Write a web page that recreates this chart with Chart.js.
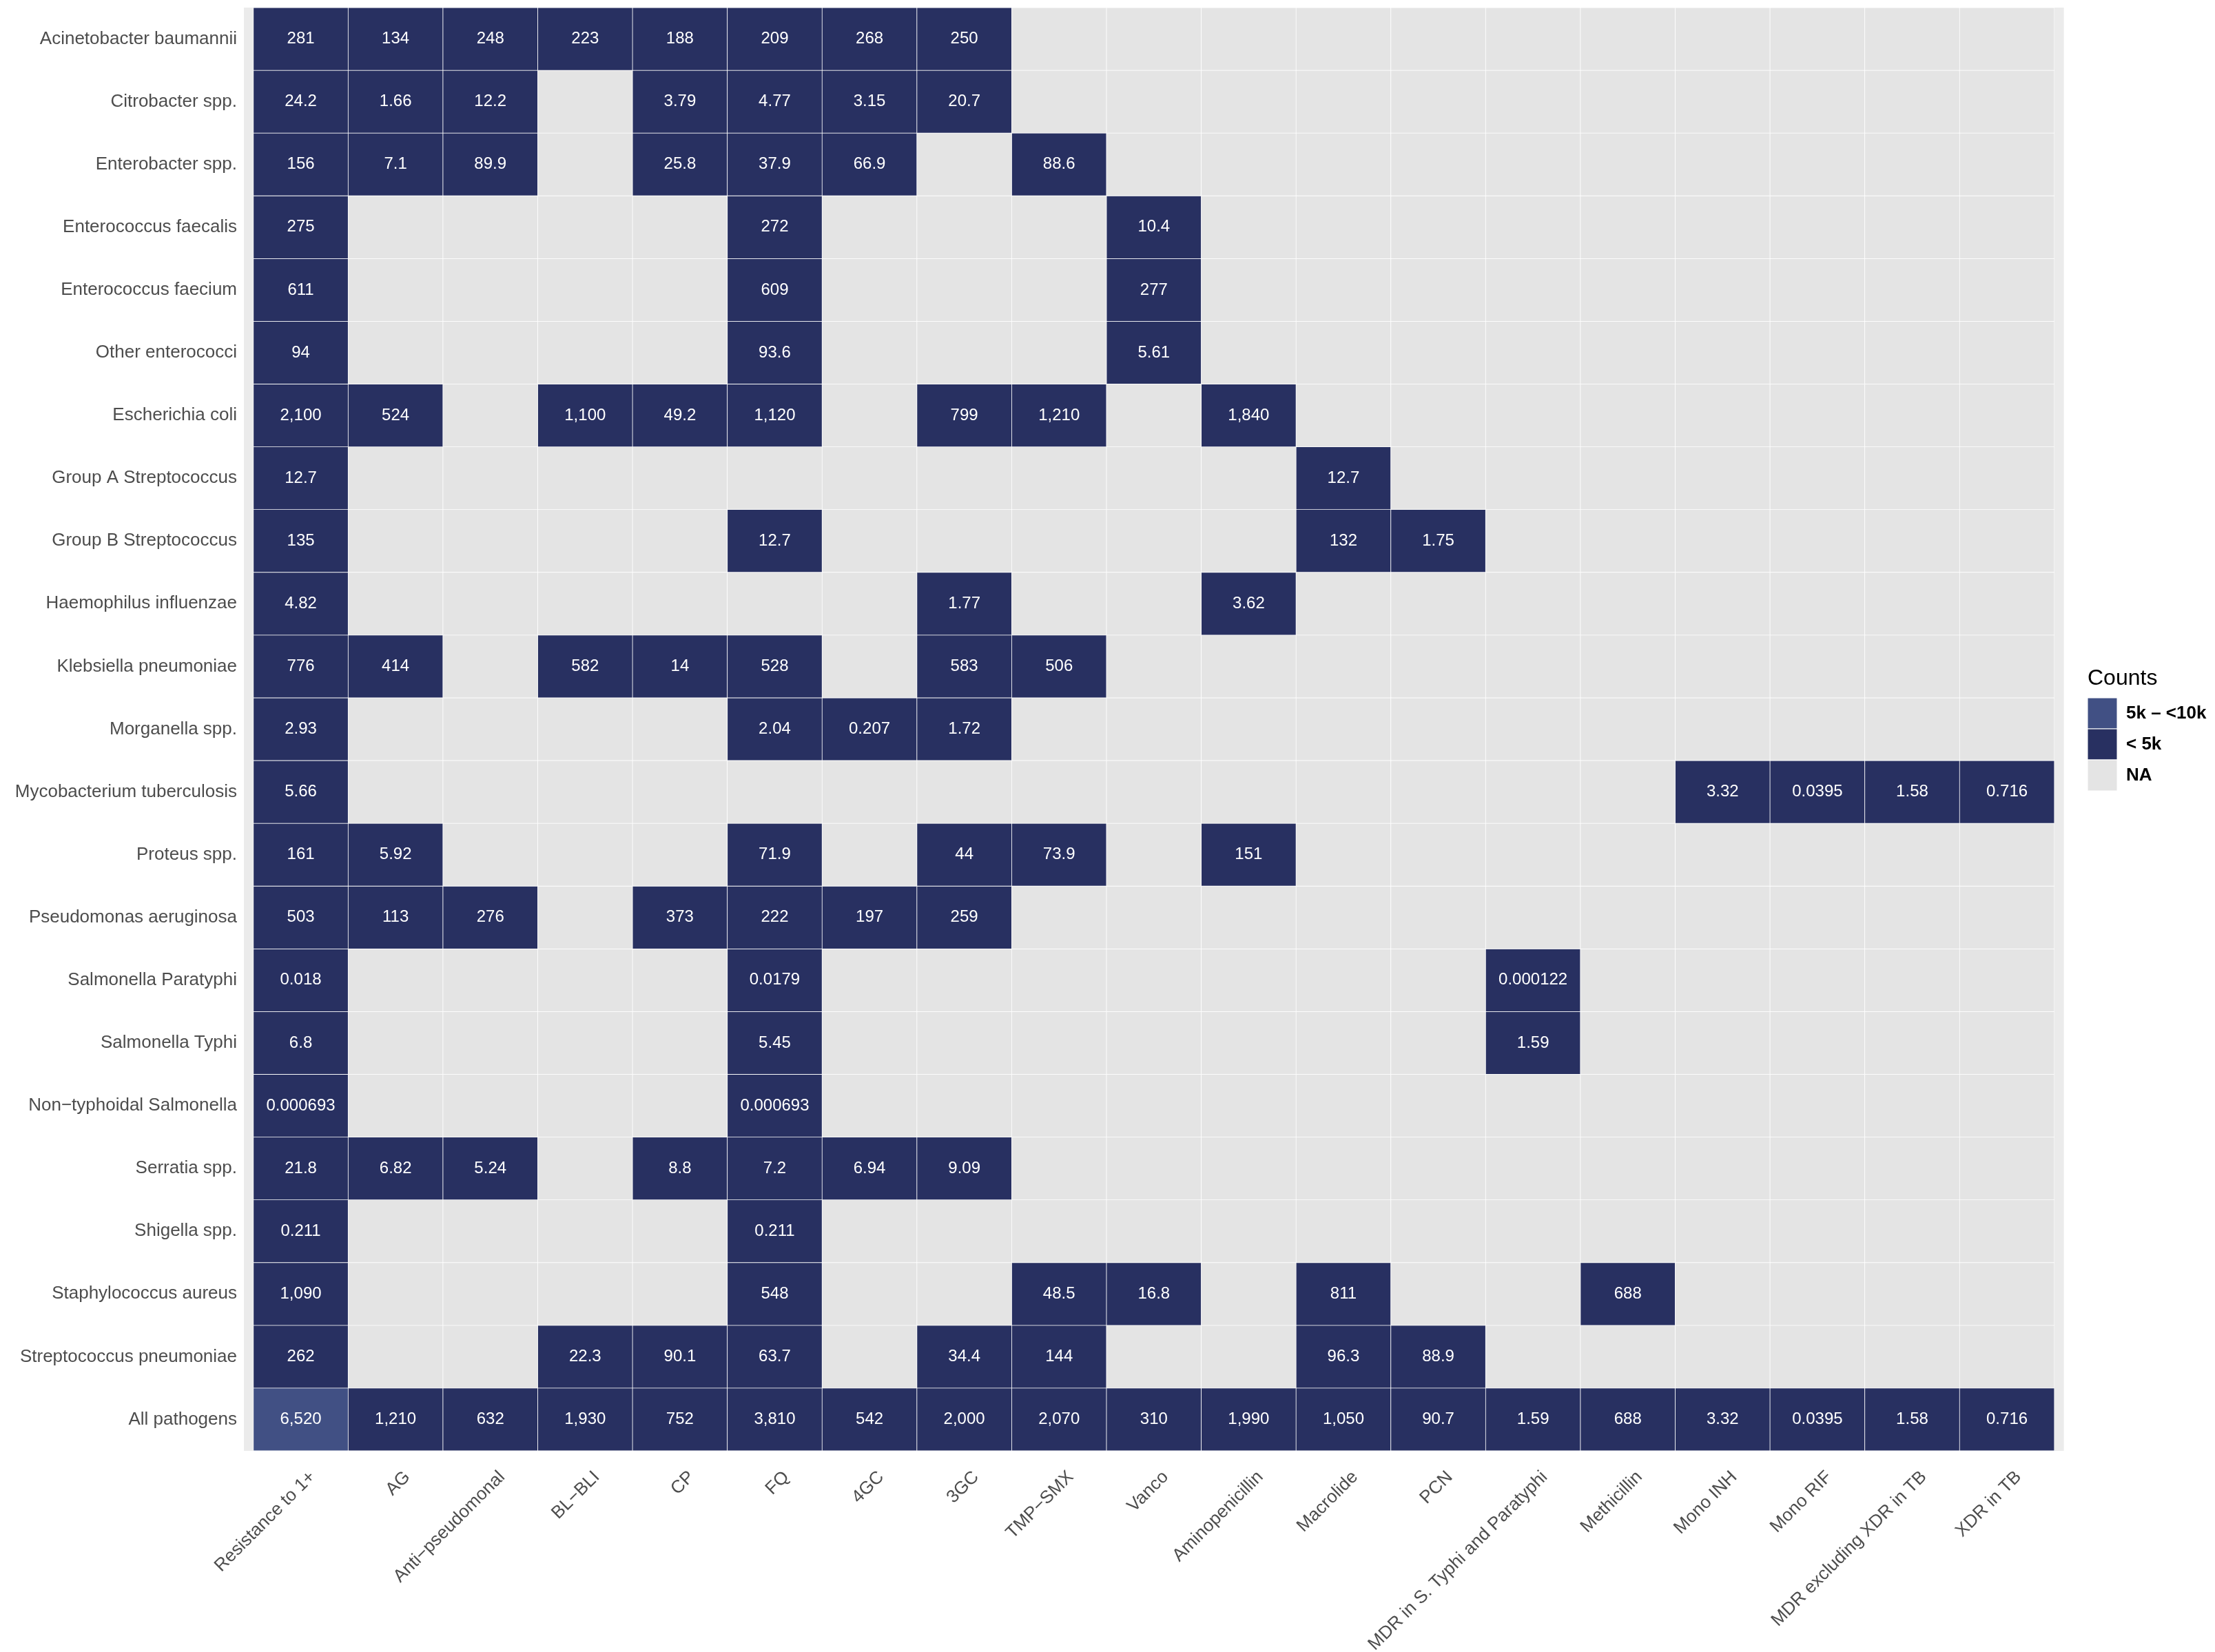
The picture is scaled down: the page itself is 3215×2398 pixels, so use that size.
<!DOCTYPE html>
<html>
<head>
<meta charset="utf-8">
<title>Resistance counts heatmap</title>
<script src="https://cdn.jsdelivr.net/npm/chart.js@4.4.1/dist/chart.umd.min.js"></script>
<style>
  html, body { margin: 0; padding: 0; background: #ffffff; }
  #wrap { width: 3215px; height: 2398px; }
</style>
</head>
<body>
<div id="wrap"><canvas id="heatmap"></canvas></div>
<script>
// Rows (top to bottom) and columns of the heatmap
const pathogens = [
    'Acinetobacter baumannii', 'Citrobacter spp.', 'Enterobacter spp.', 'Enterococcus faecalis',
    'Enterococcus faecium', 'Other enterococci', 'Escherichia coli', 'Group A Streptococcus',
    'Group B Streptococcus', 'Haemophilus influenzae', 'Klebsiella pneumoniae', 'Morganella spp.',
    'Mycobacterium tuberculosis', 'Proteus spp.', 'Pseudomonas aeruginosa', 'Salmonella Paratyphi',
    'Salmonella Typhi', 'Non\u2212typhoidal Salmonella', 'Serratia spp.', 'Shigella spp.',
    'Staphylococcus aureus', 'Streptococcus pneumoniae', 'All pathogens'
];
const drugClasses = [
    'Resistance to 1+', 'AG', 'Anti\u2212pseudomonal', 'BL\u2212BLI', 'CP', 'FQ', '4GC', '3GC',
    'TMP\u2212SMX', 'Vanco', 'Aminopenicillin', 'Macrolide', 'PCN', 'MDR in S. Typhi and Paratyphi',
    'Methicillin', 'Mono INH', 'Mono RIF', 'MDR excluding XDR in TB', 'XDR in TB'
];

// Counts per pathogen, one entry per drug class (_ = NA)
const _ = null;
const acinetobacter    = [281, 134, 248, 223, 188, 209, 268, 250, _, _, _, _, _, _, _, _, _, _, _];
const citrobacter      = [24.2, 1.66, 12.2, _, 3.79, 4.77, 3.15, 20.7, _, _, _, _, _, _, _, _, _, _, _];
const enterobacter     = [156, 7.1, 89.9, _, 25.8, 37.9, 66.9, _, 88.6, _, _, _, _, _, _, _, _, _, _];
const eFaecalis        = [275, _, _, _, _, 272, _, _, _, 10.4, _, _, _, _, _, _, _, _, _];
const eFaecium         = [611, _, _, _, _, 609, _, _, _, 277, _, _, _, _, _, _, _, _, _];
const otherEnterococci = [94, _, _, _, _, 93.6, _, _, _, 5.61, _, _, _, _, _, _, _, _, _];
const eColi            = [2100, 524, _, 1100, 49.2, 1120, _, 799, 1210, _, 1840, _, _, _, _, _, _, _, _];
const groupAStrep      = [12.7, _, _, _, _, _, _, _, _, _, _, 12.7, _, _, _, _, _, _, _];
const groupBStrep      = [135, _, _, _, _, 12.7, _, _, _, _, _, 132, 1.75, _, _, _, _, _, _];
const haemophilus      = [4.82, _, _, _, _, _, _, 1.77, _, _, 3.62, _, _, _, _, _, _, _, _];
const klebsiella       = [776, 414, _, 582, 14, 528, _, 583, 506, _, _, _, _, _, _, _, _, _, _];
const morganella       = [2.93, _, _, _, _, 2.04, 0.207, 1.72, _, _, _, _, _, _, _, _, _, _, _];
const mycobacterium    = [5.66, _, _, _, _, _, _, _, _, _, _, _, _, _, _, 3.32, 0.0395, 1.58, 0.716];
const proteus          = [161, 5.92, _, _, _, 71.9, _, 44, 73.9, _, 151, _, _, _, _, _, _, _, _];
const pseudomonas      = [503, 113, 276, _, 373, 222, 197, 259, _, _, _, _, _, _, _, _, _, _, _];
const salParatyphi     = [0.018, _, _, _, _, 0.0179, _, _, _, _, _, _, _, 0.000122, _, _, _, _, _];
const salTyphi         = [6.8, _, _, _, _, 5.45, _, _, _, _, _, _, _, 1.59, _, _, _, _, _];
const nonTyphoidal     = [0.000693, _, _, _, _, 0.000693, _, _, _, _, _, _, _, _, _, _, _, _, _];
const serratia         = [21.8, 6.82, 5.24, _, 8.8, 7.2, 6.94, 9.09, _, _, _, _, _, _, _, _, _, _, _];
const shigella         = [0.211, _, _, _, _, 0.211, _, _, _, _, _, _, _, _, _, _, _, _, _];
const staphAureus      = [1090, _, _, _, _, 548, _, _, 48.5, 16.8, _, 811, _, _, 688, _, _, _, _];
const strepPneumoniae  = [262, _, _, 22.3, 90.1, 63.7, _, 34.4, 144, _, _, 96.3, 88.9, _, _, _, _, _, _];
const allPathogens     = [6520, 1210, 632, 1930, 752, 3810, 542, 2000, 2070, 310, 1990, 1050, 90.7, 1.59, 688, 3.32, 0.0395, 1.58, 0.716];

// Legend bins
const binLabels = ['5k \u2013 <10k', '< 5k', 'NA'];
const binThreshold = 5000;

const rows = [
    acinetobacter, citrobacter, enterobacter, eFaecalis, eFaecium, otherEnterococci, eColi,
    groupAStrep, groupBStrep, haemophilus, klebsiella, morganella, mycobacterium, proteus,
    pseudomonas, salParatyphi, salTyphi, nonTyphoidal, serratia, shigella, staphAureus,
    strepPneumoniae, allPathogens
];

const binColors = ['#415084', '#283061', '#e4e4e4'];
const panelGrey = '#ebebeb';
const axisGrey = '#4d4d4d';
const fontFamily = "'Liberation Sans', Arial, Helvetica, sans-serif";

Chart.defaults.font.family = fontFamily;

function binOf(v) {
    if (v === null) return 2;
    return v >= binThreshold ? 0 : 1;
}

function formatCount(v) {
    return v.toLocaleString('en-US', { maximumSignificantDigits: 3 });
}

// grey panel with a little padding either side of the tiles (like ggplot)
const panelBackground = {
    id: 'panelBackground',
    beforeDatasetsDraw(chart) {
        const { ctx, chartArea, scales } = chart;
        const left = scales.x.getPixelForValue(-0.6);
        const right = scales.x.getPixelForValue(drugClasses.length - 0.4);
        ctx.save();
        ctx.fillStyle = panelGrey;
        ctx.fillRect(left, chartArea.top, right - left, chartArea.bottom - chartArea.top);
        ctx.restore();
    }
};

// value printed in the middle of each tile
const cellLabels = {
    id: 'cellLabels',
    afterDatasetsDraw(chart) {
        const ctx = chart.ctx;
        ctx.save();
        ctx.font = '24px ' + fontFamily;
        ctx.fillStyle = '#ffffff';
        ctx.textAlign = 'center';
        ctx.textBaseline = 'middle';
        chart.data.datasets.forEach((ds, i) => {
            chart.getDatasetMeta(i).data.forEach((bar, j) => {
                const v = ds.data[j].v;
                if (v === null) return;
                ctx.fillText(formatCount(v), bar.x, (bar.y + bar.base) / 2);
            });
        });
        ctx.restore();
    }
};

const datasets = rows.map((row, i) => ({
    label: pathogens[i],
    data: row.map((v, j) => ({ x: j, y: [i - 0.5, i + 0.5], v: v })),
    backgroundColor: ctx => binColors[binOf(ctx.raw.v)],
    borderColor: '#ffffff',
    borderWidth: 0.75,
    borderSkipped: false,
    grouped: false,
    barPercentage: 1,
    categoryPercentage: 1
}));

const chart = new Chart(document.getElementById('heatmap'), {
    type: 'bar',
    data: { datasets: datasets },
    options: {
        responsive: true,
        maintainAspectRatio: false,
        devicePixelRatio: 1,
        animation: false,
        layout: { padding: { top: 11, left: 0, right: 0, bottom: 0 } },
        scales: {
            x: {
                type: 'linear',
                position: 'bottom',
                min: -0.6,
                max: 18.85,
                offset: false,
                grid: { display: false, drawTicks: false },
                border: { display: false },
                afterBuildTicks: s => { s.ticks = drugClasses.map((_, j) => ({ value: j })); },
                afterFit: s => { s.height = 292; s.paddingLeft = 0; s.paddingRight = 0; },
                ticks: {
                    autoSkip: false,
                    minRotation: 45,
                    maxRotation: 45,
                    padding: 23,
                    labelOffset: 17,
                    color: axisGrey,
                    font: { size: 26 },
                    callback: v => drugClasses[v]
                }
            },
            y: {
                type: 'linear',
                min: -0.5,
                max: pathogens.length - 0.5,
                reverse: true,
                offset: false,
                grid: { display: false, drawTicks: false },
                border: { display: false },
                afterBuildTicks: s => { s.ticks = pathogens.map((_, i) => ({ value: i })); },
                afterFit: s => { s.width = 354; s.paddingTop = 0; s.paddingBottom = 0; },
                ticks: {
                    autoSkip: false,
                    padding: 10,
                    color: axisGrey,
                    font: { size: 26 },
                    callback: v => pathogens[v]
                }
            }
        },
        plugins: {
            tooltip: { enabled: false },
            legend: {
                position: 'right',
                align: 'center',
                fullSize: false,
                onClick: () => {},
                title: {
                    display: true,
                    text: 'Counts',
                    position: 'start',
                    color: '#000000',
                    font: { size: 32 },
                    padding: { top: 0, bottom: 5.6 }
                },
                labels: {
                    boxWidth: 43,
                    boxHeight: 45,
                    padding: 0,
                    color: '#000000',
                    font: { size: 26, weight: 'bold' },
                    generateLabels: () => binLabels.map((text, k) => ({
                        text: text,
                        fillStyle: binColors[k],
                        strokeStyle: '#ffffff',
                        lineWidth: 1,
                        hidden: false,
                        datasetIndex: k
                    }))
                }
            }
        }
    },
    plugins: [panelBackground, cellLabels]
});

// nudge the legend so its keys start where the reference has them
const overshoot = chart.chartArea.right - 3030;
if (overshoot > 0.5) {
    chart.options.layout.padding.right = overshoot;
    chart.update();
}
</script>
</body>
</html>
